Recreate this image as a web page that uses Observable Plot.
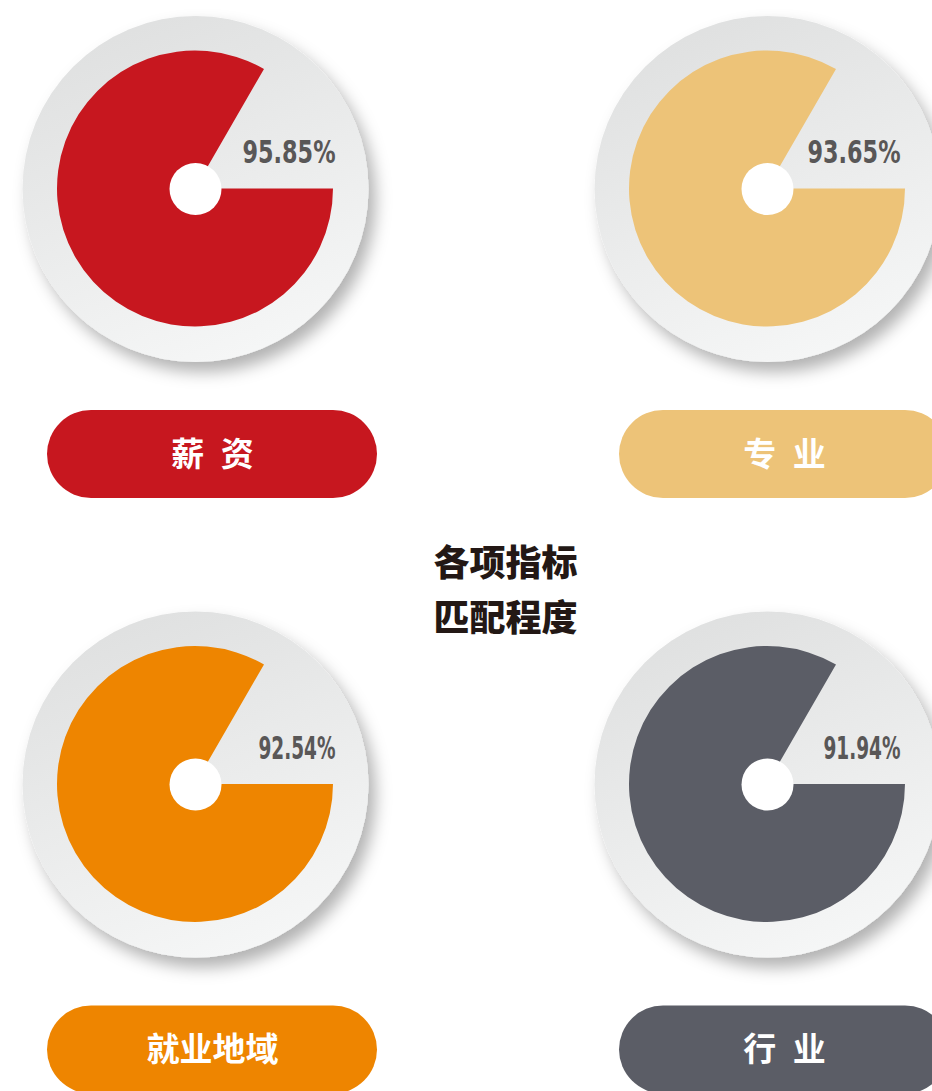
<!DOCTYPE html>
<html>
<head>
<meta charset="utf-8">
<script src="https://cdn.jsdelivr.net/npm/d3@7"></script>
<script src="https://cdn.jsdelivr.net/npm/@observablehq/plot@0.6"></script>
<style>
  html, body { margin: 0; padding: 0; background: #fff; overflow: hidden; }
  #chart { width: 932px; height: 1091px; overflow: hidden; }
</style>
</head>
<body>
<div id="chart"></div>
<script>
// ---- data ----
const categories = ["薪 资", "专 业", "就业地域", "行 业"];
const values = [95.85, 93.65, 92.54, 91.94];
const title = ["各项指标", "匹配程度"];

// ---- styling / layout constants ----
const palette = ["#C7171F", "#EDC378", "#EE8500", "#5B5D66"];
const ARC_SWEEP = 300;      // degrees of the coloured sector as drawn (decorative)
const PLATE_R = 173, SECTOR_R = 138, HOLE_R = 26;

const rows = categories.map((c, i) => ({
  category: c, value: values[i], col: i % 2, row: Math.floor(i / 2)
}));

const defs = () => {
  const d = d3.create("svg:defs");
  const lg = d.append("linearGradient").attr("id", "plateGrad")
    .attr("x1", "0.3").attr("y1", "0").attr("x2", "0.7").attr("y2", "1");
  lg.append("stop").attr("offset", "0").attr("stop-color", "#dfe0e0");
  lg.append("stop").attr("offset", "1").attr("stop-color", "#f6f7f7");
  const f = d.append("filter").attr("id", "plateShadow")
    .attr("x", "-20%").attr("y", "-20%").attr("width", "150%").attr("height", "150%");
  f.append("feDropShadow").attr("dx", 7).attr("dy", 10).attr("stdDeviation", 8)
    .attr("flood-color", "#000").attr("flood-opacity", 0.3);
  return d.node();
};

const sectors = (index, scales) => {
  const g = d3.create("svg:g").attr("aria-label", "sectors");
  const arc = d3.arc().innerRadius(0).outerRadius(SECTOR_R)
    .startAngle(Math.PI / 2).endAngle(Math.PI / 2 + ARC_SWEEP * Math.PI / 180);
  for (const d of rows) {
    g.append("path")
      .attr("d", arc())
      .attr("transform", `translate(${scales.x(d.col)},${scales.y(d.row)})`)
      .attr("fill", scales.color(d.category));
  }
  return g.node();
};

const pctOpts = (dx) => ({
  x: "col", y: "row", text: d => d.value.toFixed(2) + "%",
  dx, dy: -36, textAnchor: "end",
  fontSize: 32, fontWeight: "bold",
  fontFamily: "'DejaVu Sans Condensed', 'DejaVu Sans', sans-serif",
  fill: "#595757"
});

const chart = Plot.plot({
  width: 932,
  height: 1091,
  margin: 0,
  style: { overflow: "hidden", background: "#fff" },
  x: { domain: [0, 1], range: [195, 767], axis: null },
  y: { domain: [0, 1], range: [188.5, 784], axis: null },
  color: { domain: categories, range: palette },
  marks: [
    defs,
    Plot.dot(rows, { x: "col", y: "row", r: PLATE_R, fill: "url(#plateGrad)", stroke: "none" }),
    sectors,
    Plot.dot(rows, { x: "col", y: "row", r: HOLE_R, fill: "#fff", stroke: "none" }),
    Plot.text(rows.filter(d => d.col === 0), pctOpts(140)),
    Plot.text(rows.filter(d => d.col === 1), pctOpts(133)),
    Plot.rect(rows, {
      x1: "col", x2: "col", y1: "row", y2: "row",
      insetLeft: -148, insetRight: -182, insetTop: 221.5, insetBottom: -309.5,
      rx: 44, fill: "category"
    }),
    Plot.text(rows, {
      x: "col", y: "row", text: d => d.category.replace(" ", "\u2002"),
      dx: 17, dy: 266,
      fontSize: 33, fontWeight: "bold", fontFamily: "Noto Sans CJK SC",
      fill: "#fff"
    }),
    Plot.text([title.join("\n")], {
      frameAnchor: "middle", dx: 39, dy: 40, lineHeight: 1.53,
      fontSize: 36, fontWeight: 900, fontFamily: "Noto Sans CJK SC",
      fill: "#231815"
    })
  ]
});

// shadow on the plates and condensed widths of the percentage labels
const svg = d3.select(chart.tagName.toLowerCase() === "svg" ? chart : chart.querySelector("svg"));
svg.selectAll('g[aria-label="dot"]').filter((d, i) => i === 0).attr("filter", "url(#plateShadow)");
svg.selectAll('g[aria-label="text"]').filter((d, i) => i < 2)
  .selectAll("text")
  .each(function () {
    const t = this.textContent;
    const topRow = t.startsWith("95") || t.startsWith("93");
    d3.select(this).attr("textLength", topRow ? 93 : 77).attr("lengthAdjust", "spacingAndGlyphs");
  });

document.getElementById("chart").appendChild(chart);
</script>
</body>
</html>
